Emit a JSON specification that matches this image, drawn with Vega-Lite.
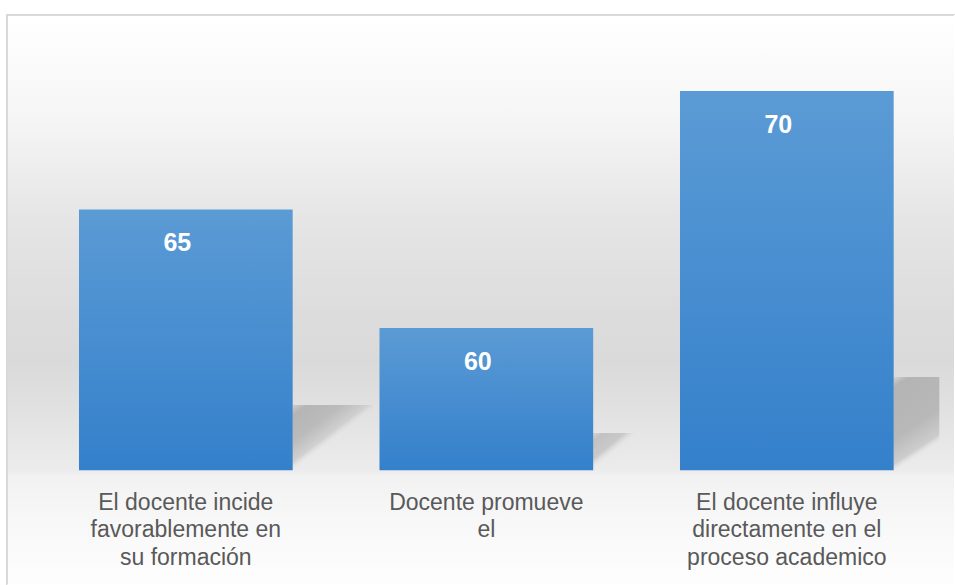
{
  "$schema": "https://vega.github.io/schema/vega-lite/v6.json",
  "autosize": "none",
  "width": 948,
  "height": 570,
  "padding": {"left": 7, "top": 15, "right": 0, "bottom": 0},
  "background": "#ffffff",
  "view": {
    "strokeWidth": 2,
    "stroke": {
      "gradient": "linear", "x1": 0, "y1": 0, "x2": 1, "y2": 1,
      "stops": [
        {"offset": 0, "color": "#d9d9d9"},
        {"offset": 0.4996, "color": "#d9d9d9"},
        {"offset": 0.5, "color": "#ffffff"},
        {"offset": 1, "color": "#ffffff"}
      ]
    },
    "fill": {
      "gradient": "linear", "x1": 0, "y1": 0, "x2": 0, "y2": 1,
      "stops": [
        {"offset": 0, "color": "#ffffff"},
        {"offset": 0.175, "color": "#f6f6f6"},
        {"offset": 0.35, "color": "#e6e6e6"},
        {"offset": 0.525, "color": "#dcdcdc"},
        {"offset": 0.61, "color": "#dadada"},
        {"offset": 0.68, "color": "#e0e0e0"},
        {"offset": 0.80, "color": "#ececec"},
        {"offset": 0.81, "color": "#f2f2f2"},
        {"offset": 0.91, "color": "#f9f9f9"},
        {"offset": 1, "color": "#fefefe"}
      ]
    }
  },
  "config": {
    "font": "Liberation Sans"
  },
  "data": {
    "values": [
      {"pregunta": "El docente incide favorablemente en su formación", "valor": 65},
      {"pregunta": "Docente promueve el", "valor": 60},
      {"pregunta": "El docente influye directamente en el proceso academico", "valor": 70}
    ]
  },
  "encoding": {
    "x": {
      "field": "pregunta",
      "type": "nominal",
      "sort": null,
      "scale": {"paddingInner": 0.2889, "paddingOuter": 0.2218, "align": 0.54},
      "axis": {
        "title": null,
        "orient": "bottom",
        "offset": -115,
        "domain": false,
        "ticks": false,
        "grid": false,
        "labelAngle": 0,
        "labelPadding": 21,
        "labelBaseline": "top",
        "labelFont": "Liberation Sans",
        "labelFontSize": 23,
        "labelColor": "#595959",
        "labelLineHeight": 27.5,
        "labelLimit": 0,
        "labelExpr": "datum.value == 'El docente incide favorablemente en su formación' ? ['El docente incide', 'favorablemente en', 'su formación'] : datum.value == 'Docente promueve el' ? ['Docente promueve', 'el'] : ['El docente influye', 'directamente en el', 'proceso academico']"
      }
    }
  },
  "layer": [
    {
      "transform": [{"filter": "datum.pregunta == 'El docente incide favorablemente en su formación'"}],
      "mark": {
        "type": "bar",
        "width": 82,
        "xOffset": 147.5,
        "fill": {
          "gradient": "linear", "x1": 0, "y1": 0, "x2": 0.95, "y2": 1,
          "stops": [
            {"offset": 0, "color": "#cccccc"},
            {"offset": 0.09, "color": "#b5b5b5"},
            {"offset": 0.3, "color": "#bbbbbb"},
            {"offset": 0.46, "color": "#d0d0d0"},
            {"offset": 0.53, "color": "rgba(225,225,225,0)"},
            {"offset": 1, "color": "rgba(225,225,225,0)"}
          ]
        }
      },
      "encoding": {
        "y": {"datum": 56.75, "type": "quantitative", "scale": {"domain": [49.156, 73.207], "nice": false, "zero": false}, "axis": null},
        "y2": {"datum": 54}
      }
    },
    {
      "transform": [{"filter": "datum.pregunta == 'Docente promueve el'"}],
      "mark": {
        "type": "bar",
        "width": 46,
        "xOffset": 129.5,
        "fill": {
          "gradient": "linear", "x1": 0, "y1": 0, "x2": 1, "y2": 1,
          "stops": [
            {"offset": 0, "color": "#d4d4d4"},
            {"offset": 0.12, "color": "#c2c2c2"},
            {"offset": 0.35, "color": "#c9c9c9"},
            {"offset": 0.5, "color": "rgba(230,230,230,0)"},
            {"offset": 1, "color": "rgba(230,230,230,0)"}
          ]
        }
      },
      "encoding": {
        "y": {"datum": 55.57, "type": "quantitative", "scale": {"domain": [49.156, 73.207], "nice": false, "zero": false}, "axis": null},
        "y2": {"datum": 54}
      }
    },
    {
      "transform": [{"filter": "datum.pregunta == 'El docente influye directamente en el proceso academico'"}],
      "mark": {
        "type": "bar",
        "width": 46,
        "xOffset": 129.5,
        "fill": {
          "gradient": "linear", "x1": 0, "y1": 0, "x2": 0.32, "y2": 1,
          "stops": [
            {"offset": 0, "color": "#d4d4d4"},
            {"offset": 0.1, "color": "#b4b4b4"},
            {"offset": 0.6, "color": "#b8b8b8"},
            {"offset": 0.85, "color": "#cdcdcd"},
            {"offset": 0.93, "color": "rgba(230,230,230,0)"},
            {"offset": 1, "color": "rgba(230,230,230,0)"}
          ]
        }
      },
      "encoding": {
        "y": {"datum": 57.93, "type": "quantitative", "scale": {"domain": [49.156, 73.207], "nice": false, "zero": false}, "axis": null},
        "y2": {"datum": 54}
      }
    },
    {
      "mark": {
        "type": "bar",
        "fill": {
          "gradient": "linear", "x1": 0, "y1": 0, "x2": 0, "y2": 1,
          "stops": [
            {"offset": 0, "color": "#5b9bd5"},
            {"offset": 1, "color": "#3480cb"}
          ]
        }
      },
      "encoding": {
        "y": {"field": "valor", "type": "quantitative", "scale": {"domain": [49.156, 73.207], "nice": false, "zero": false}, "axis": null},
        "y2": {"datum": 54}
      }
    },
    {
      "mark": {
        "type": "text",
        "baseline": "alphabetic",
        "align": "center",
        "dx": -8.5,
        "dy": 41.5,
        "font": "Liberation Sans",
        "fontWeight": "bold",
        "fontSize": 25,
        "color": "#ffffff"
      },
      "encoding": {
        "y": {"field": "valor", "type": "quantitative", "scale": {"domain": [49.156, 73.207], "nice": false, "zero": false}, "axis": null},
        "text": {"field": "valor", "type": "quantitative"}
      }
    }
  ]
}
